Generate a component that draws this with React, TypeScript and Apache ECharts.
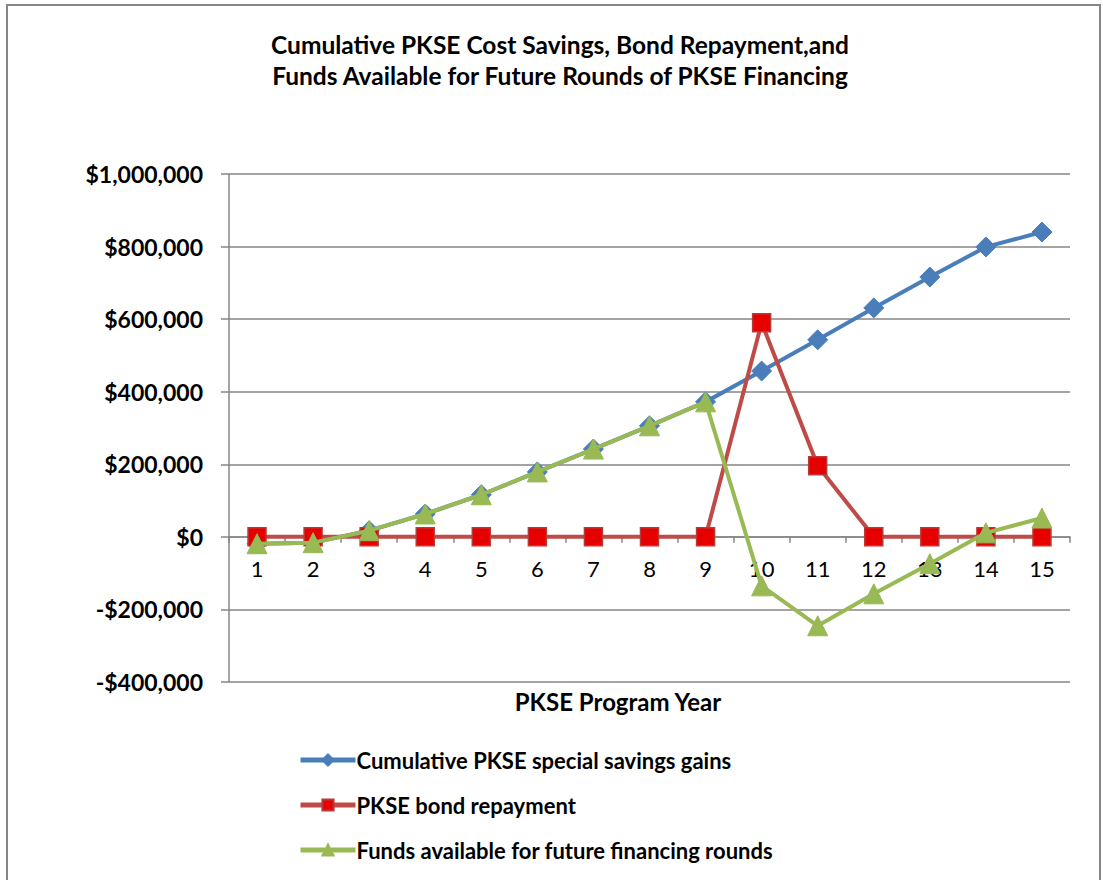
import React, { useEffect, useRef } from "react";
import * as echarts from "echarts";

const years = ["1", "2", "3", "4", "5", "6", "7", "8", "9", "10", "11", "12", "13", "14", "15"];
const savingsGains = [-19000, -16000, 17000, 63000, 116000, 179000, 242000, 306000, 372000, 457000, 543000, 631000, 716000, 799000, 840000];
const bondRepayment = [0, 0, 0, 0, 0, 0, 0, 0, 0, 590000, 196000, 0, 0, 0, 0];
const fundsAvailable = [-19000, -16000, 17000, 63000, 116000, 179000, 242000, 306000, 372000, -135000, -245000, -157000, -74000, 11000, 52000];
const yTicks = { min: -400000, max: 1000000, interval: 200000 };

const titleLines = [
  "Cumulative PKSE Cost Savings, Bond Repayment,and",
  "Funds Available for Future Rounds of PKSE Financing",
];
const xAxisTitle = "PKSE Program Year";
const seriesNames = [
  "Cumulative PKSE special savings gains",
  "PKSE bond repayment",
  "Funds available for future financing rounds",
];

const FONT = "Lato, 'Liberation Sans', sans-serif";

function fmt(v: number): string {
  const abs = Math.abs(v).toLocaleString("en-US");
  return (v < 0 ? "-$" : "$") + abs;
}

export default function App() {
  const ref = useRef<HTMLDivElement>(null);
  useEffect(() => {
    if (!ref.current) return;
    const chart = echarts.init(ref.current, null, { renderer: "svg" });
    const gridTop = 174;
    const gridBottom = 198;
    const plotH = 880 - gridTop - gridBottom;
    const zeroY = gridTop + (plotH * yTicks.max) / (yTicks.max - yTicks.min);
    const xOffset = -(gridTop + plotH - zeroY);
    chart.setOption({
      animation: false,
      backgroundColor: "#ffffff",
      textStyle: { fontFamily: FONT },
      graphic: [
        {
          type: "rect",
          shape: { x: 7, y: 5, width: 1093, height: 900 },
          style: { fill: "none", stroke: "#868686", lineWidth: 2 },
          silent: true,
        },
        {
          type: "text",
          x: 560,
          y: 44,
          style: {
            text: titleLines[0],
            font: `bold 24.5px ${FONT}`,
            fill: "#000",
            align: "center",
            verticalAlign: "middle",
          },
        },
        {
          type: "text",
          x: 560,
          y: 75,
          style: {
            text: titleLines[1],
            font: `bold 24.5px ${FONT}`,
            fill: "#000",
            align: "center",
            verticalAlign: "middle",
          },
        },
        {
          type: "text",
          x: 618,
          y: 701,
          style: {
            text: xAxisTitle,
            font: `bold 24px ${FONT}`,
            fill: "#000",
            align: "center",
            verticalAlign: "middle",
          },
        },
      ],
      grid: { left: 229, right: 33, top: gridTop, bottom: gridBottom, containLabel: false },
      legend: {
        orient: "vertical",
        left: 298,
        top: 749,
        padding: 0,
        itemWidth: 55,
        itemHeight: 14,
        itemGap: 23,
        lineStyle: { width: 5 },
        textStyle: { fontFamily: FONT, fontWeight: "bold", fontSize: 22, color: "#000", padding: [0, 0, 0, -4] },
        data: seriesNames,
      },
      xAxis: {
        type: "category",
        data: years,
        boundaryGap: true,
        position: "bottom",
        offset: xOffset,
        axisLine: { onZero: false, lineStyle: { color: "#868686", width: 1.5 } },
        axisTick: { show: true, interval: 0, length: 6, inside: false, lineStyle: { color: "#868686", width: 1.5 } },
        axisLabel: { fontFamily: FONT, fontSize: 22, color: "#000", margin: 21, interval: 0 },
        splitLine: { show: false },
      },
      yAxis: {
        type: "value",
        min: yTicks.min,
        max: yTicks.max,
        interval: yTicks.interval,
        axisLine: { show: true, lineStyle: { color: "#868686", width: 1.5 } },
        axisTick: { show: true, length: 8, lineStyle: { color: "#868686", width: 1.5 } },
        axisLabel: { fontFamily: FONT, fontSize: 23, fontWeight: "bold", color: "#000", margin: 26, formatter: fmt },
        splitLine: { show: true, lineStyle: { color: "#868686", width: 1.5 } },
      },
      series: [
        {
          name: seriesNames[0],
          type: "line",
          data: savingsGains,
          symbol: "diamond",
          symbolSize: 20,
          lineStyle: { color: "#4a7ebb", width: 4 },
          itemStyle: { color: "#4a7ebb", borderColor: "#4a7ebb", borderWidth: 1 },
          z: 2,
        },
        {
          name: seriesNames[1],
          type: "line",
          data: bondRepayment,
          symbol: "rect",
          symbolSize: 18,
          lineStyle: { color: "#be4b48", width: 4 },
          itemStyle: { color: "#e60000", borderColor: "#b83a37", borderWidth: 1.5 },
          z: 3,
        },
        {
          name: seriesNames[2],
          type: "line",
          data: fundsAvailable,
          symbol: "triangle",
          symbolSize: 20,
          lineStyle: { color: "#98b954", width: 4 },
          itemStyle: { color: "#98b954", borderColor: "#98b954", borderWidth: 1 },
          z: 4,
        },
      ],
    });
    return () => chart.dispose();
  }, []);
  return (
    <div
      ref={ref}
      style={{ position: "absolute", left: 0, top: 0, width: 1103, height: 880 }}
    />
  );
}
